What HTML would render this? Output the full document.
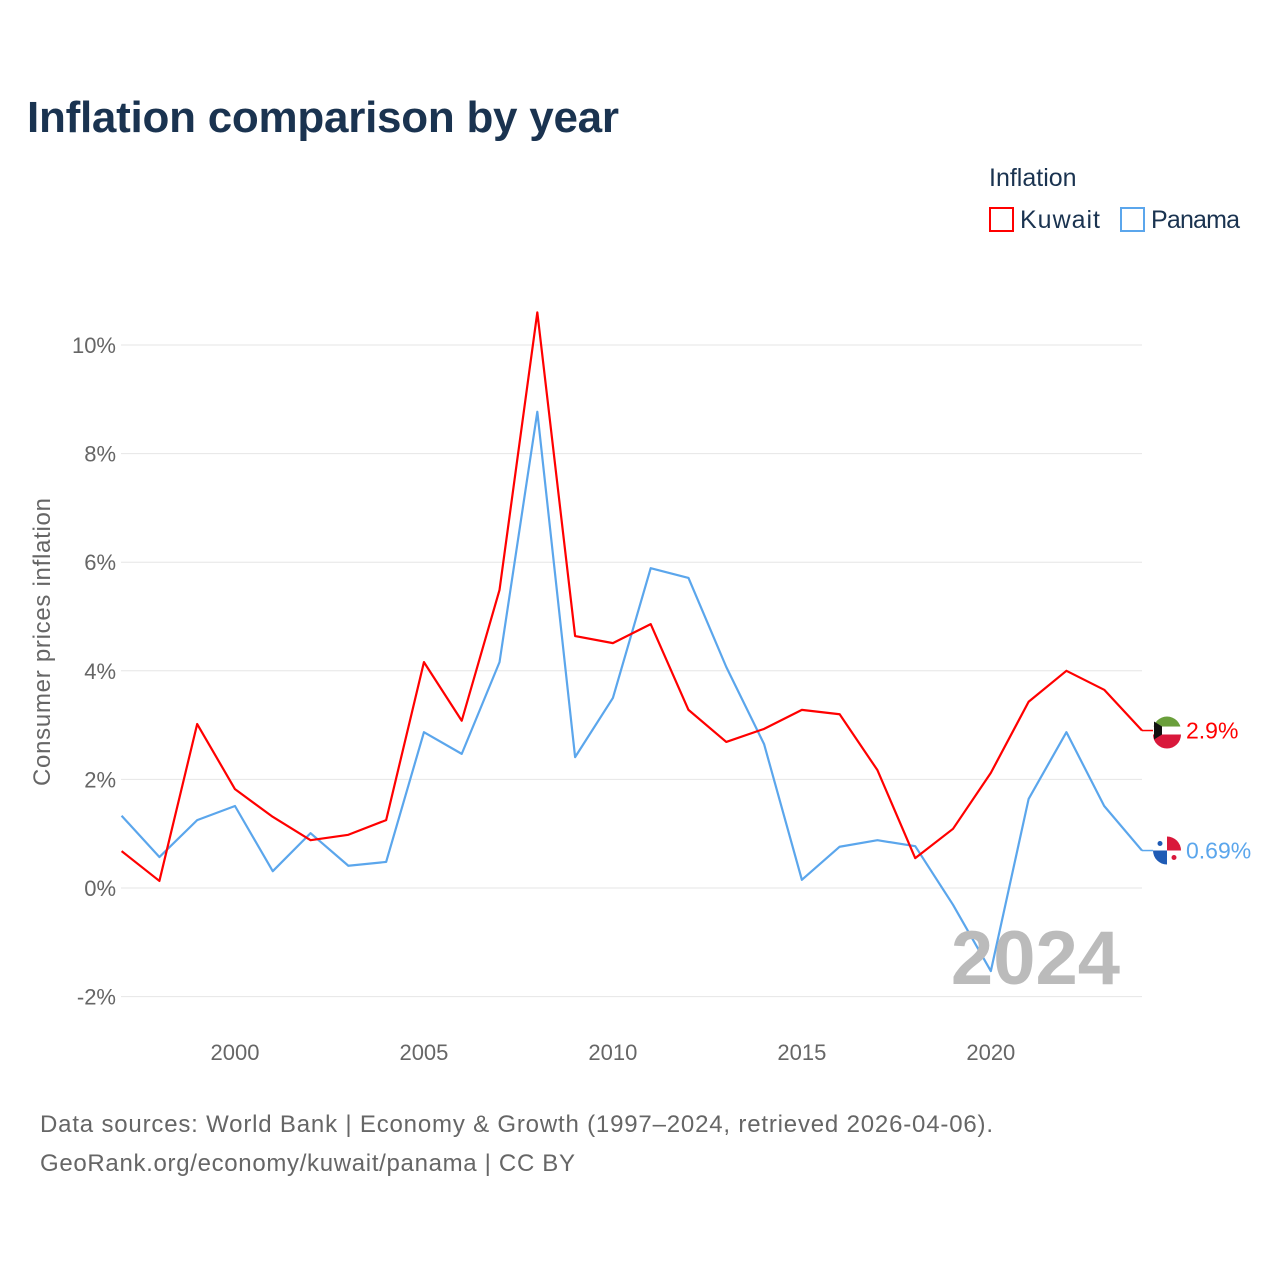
<!DOCTYPE html>
<html><head><meta charset="utf-8"><style>
body{margin:0;background:#fff;font-family:"Liberation Sans",sans-serif;}
</style></head><body>
<svg id="c" width="1280" height="1280" viewBox="0 0 1280 1280" xmlns="http://www.w3.org/2000/svg">
<text x="27" y="132" font-size="44" font-weight="bold" fill="#1a3350" textLength="592">Inflation comparison by year</text>
<text x="989" y="186" font-size="25" fill="#1a3350">Inflation</text>
<g><rect x="990" y="208" width="23" height="23" fill="none" stroke="#ff0000" stroke-width="2"/><text x="1020" y="228" font-size="25" fill="#1a3350" textLength="80">Kuwait</text></g>
<g><rect x="1121" y="208" width="23" height="23" fill="none" stroke="#5ba6ec" stroke-width="2"/><text x="1151" y="228" font-size="25" fill="#1a3350" textLength="89">Panama</text></g>
<text transform="translate(50,642) rotate(-90)" text-anchor="middle" font-size="24" fill="#666" textLength="288">Consumer prices inflation</text>
<g id="grid"></g><g id="series"></g>
<text x="1120" y="984" text-anchor="end" font-size="76" font-weight="bold" fill="#bbb">2024</text>
<text x="40" y="1132" font-size="24" fill="#666" textLength="953">Data sources: World Bank | Economy &amp; Growth (1997–2024, retrieved 2026-04-06).</text>
<text x="40" y="1171" font-size="24" fill="#666" textLength="535">GeoRank.org/economy/kuwait/panama | CC BY</text>
</svg>
<script>
const years=[1997,1998,1999,2000,2001,2002,2003,2004,2005,2006,2007,2008,2009,2010,2011,2012,2013,2014,2015,2016,2017,2018,2019,2020,2021,2022,2023,2024];
const kuwait=[0.68,0.13,3.02,1.82,1.31,0.88,0.98,1.25,4.16,3.08,5.49,10.6,4.64,4.51,4.86,3.28,2.69,2.93,3.28,3.20,2.17,0.55,1.09,2.12,3.43,4.0,3.65,2.9];
const panama=[1.33,0.57,1.25,1.51,0.31,1.01,0.41,0.48,2.87,2.47,4.16,8.77,2.41,3.50,5.89,5.71,4.07,2.65,0.15,0.76,0.88,0.77,-0.31,-1.53,1.64,2.87,1.51,0.69];
const yTicks=[-2,0,2,4,6,8,10];
const xTicks=[2000,2005,2010,2015,2020];
const NS="http://www.w3.org/2000/svg";
const X=y=>121.6+(y-1997)*(1142-121.6)/27;
const Y=v=>888-v*54.3;
function mk(t,a,p){const e=document.createElementNS(NS,t);for(const k in a)e.setAttribute(k,a[k]);p.appendChild(e);return e;}
const g=document.getElementById('grid');
yTicks.forEach(t=>{
 const l=mk('line',{x1:121,x2:1142,y1:Y(t),y2:Y(t),stroke:'#e6e6e6','stroke-width':1},g);
 
 
 const tx=mk('text',{x:116,y:Y(t)+8,'text-anchor':'end','font-size':22,fill:'#666'},g);
 tx.textContent=t+'%';
 
 
});
xTicks.forEach(t=>{
 const tx=mk('text',{x:X(t),y:1060,'text-anchor':'middle','font-size':22,fill:'#666'},g);
 tx.textContent=t;
 
 
});
const s=document.getElementById('series');
function series(vals,col,name,flag){
 const p=mk('polyline',{points:vals.map((v,i)=>X(years[i])+','+Y(v)).join(' '),fill:'none',stroke:col,'stroke-width':2.2,'stroke-linejoin':'round'},s);
 
 
 const last=vals[vals.length-1],ly=Y(last),lx=X(years[years.length-1]);
 mk('line',{x1:lx,x2:lx+12,y1:ly,y2:ly,stroke:col,'stroke-width':1.5},s);
 const cx=lx+25,r=14;
 const fg=mk('g',{},s);
 
 
 if(flag==='kw'){
  mk('path',{d:`M${cx-r},${ly} A${r},${r} 0 0 1 ${cx+r},${ly} Z`,fill:'#6a9f3b'},fg);
  mk('rect',{x:cx-r,y:ly-4,width:2*r,height:8,fill:'#fff'},fg);
  mk('path',{d:`M${cx-r},${ly+4} L${cx+r},${ly+4} A${r},${r} 0 0 1 ${cx-r},${ly+4} Z`,fill:'#d9183b'},fg);
  mk('path',{d:`M${cx-r+1},${ly-9} L${cx-5},${ly-4} L${cx-5},${ly+4} L${cx-r+1},${ly+9} Z`,fill:'#111'},fg);
 }else{
  mk('circle',{cx:cx,cy:ly,r:r,fill:'#fff'},fg);
  mk('path',{d:`M${cx},${ly} L${cx+r},${ly} A${r},${r} 0 0 0 ${cx},${ly-r} Z`,fill:'#d9183b'},fg);
  mk('path',{d:`M${cx},${ly} L${cx-r},${ly} A${r},${r} 0 0 0 ${cx},${ly+r} Z`,fill:'#1f5bb5'},fg);
  mk('circle',{cx:cx-7,cy:ly-7,r:2.5,fill:'#1f5bb5'},fg);
  mk('circle',{cx:cx+7,cy:ly+7,r:2.5,fill:'#d9183b'},fg);
 }
 const t=mk('text',{x:lx+44,y:ly+8,'font-size':23,fill:col},s);
 t.textContent=last+'%';
 
 
}
series(panama,'#5ba6ec','panama','pa');
series(kuwait,'#ff0000','kuwait','kw');
</script>
</body></html>
